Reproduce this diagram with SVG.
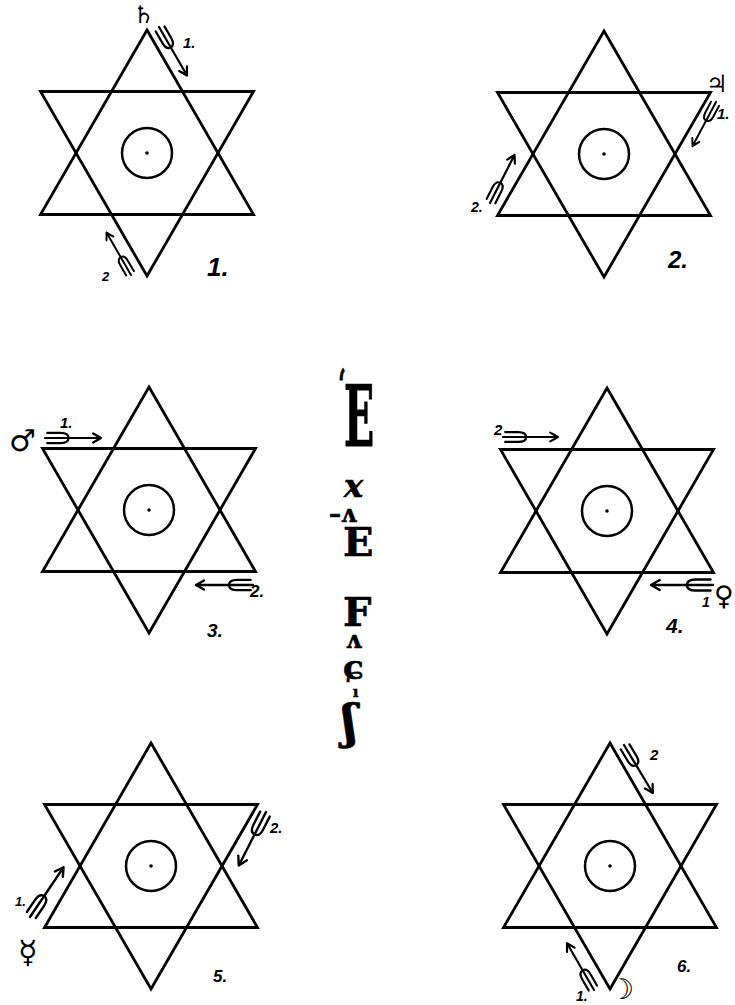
<svg xmlns="http://www.w3.org/2000/svg" xmlns:xlink="http://www.w3.org/1999/xlink" width="735" height="1005" viewBox="0 0 735 1005">
<style>
.hexl{fill:none;stroke:#000;stroke-width:2.8;stroke-linejoin:miter}
.ring{fill:none;stroke:#000;stroke-width:2.5}
.ar{fill:none;stroke:#000;stroke-width:2;stroke-linecap:round;stroke-linejoin:round}
.num{font-family:"Liberation Sans",Arial,sans-serif;font-weight:bold;font-style:italic;fill:#000}
.sym{font-family:"DejaVu Sans",sans-serif;fill:#000}
.eno{font-family:"DejaVu Serif",serif;font-weight:bold;fill:#000;stroke:#000;stroke-width:0.6}
</style>
<defs>
<g id="hex">
<polygon class="hexl" points="0,-123 106.5,61.5 -106.5,61.5"/>
<polygon class="hexl" points="0,123 106.5,-61.5 -106.5,-61.5"/>
<circle class="ring" cx="0" cy="0" r="25"/>
<circle cx="0" cy="0" r="1.8" fill="#000"/>
</g>
<g id="ta">
<path class="ar" d="M0,0 H50 M43,-4 L50,0 L43,4"/>
<path class="ar" d="M2,-4.5 H14 Q21,-4.5 21,0 Q21,4.5 14,4.5 H2"/>
</g>
</defs>
<rect width="735" height="1005" fill="#fff"/>

<g id="star1">
<use xlink:href="#hex" transform="translate(147,153)"/>
<text class="sym" x="133" y="23" font-size="24">♄</text>
<text class="num" x="183" y="48" font-size="15">1.</text>
<text class="num" x="102" y="281" font-size="13">2</text>
<text class="num" x="207" y="276" font-size="26">1.</text>
</g>
<g id="star2">
<use xlink:href="#hex" transform="translate(604,154)"/>
<text class="sym" x="706" y="92" font-size="24">♃</text>
<text class="num" x="717" y="119" font-size="15">1.</text>
<text class="num" x="471" y="212" font-size="14">2.</text>
<text class="num" x="668" y="268" font-size="24">2.</text>
</g>
<g id="star3">
<use xlink:href="#hex" transform="translate(149,510)"/>
<text class="sym" x="9" y="451" font-size="30">♂</text>
<text class="num" x="60" y="428" font-size="15">1.</text>
<text class="num" x="250" y="597" font-size="17">2.</text>
<text class="num" x="207" y="637" font-size="19">3.</text>
</g>
<g id="star4">
<use xlink:href="#hex" transform="translate(607,511)"/>
<text class="num" x="494" y="435" font-size="15">2</text>
<text class="num" x="702" y="607" font-size="14">1</text>
<text class="sym" x="714" y="605" font-size="27">♀</text>
<text class="num" x="666" y="633" font-size="21">4.</text>
</g>
<g id="star5">
<use xlink:href="#hex" transform="translate(151,866)"/>
<text class="num" x="15" y="906" font-size="13">1.</text>
<text class="sym" x="18" y="963" font-size="32">☿</text>
<text class="num" x="270" y="833" font-size="15">2.</text>
<text class="num" x="213" y="982" font-size="17">5.</text>
</g>
<g id="star6">
<use xlink:href="#hex" transform="translate(610,866)"/>
<text class="num" x="650" y="760" font-size="15">2</text>
<text class="num" x="576" y="1001" font-size="14">1.</text>
<text class="sym" x="609" y="999" font-size="28" font-weight="bold">☽</text>
<text class="num" x="677" y="972" font-size="17">6.</text>
</g>

<g id="connectors">
<use xlink:href="#ta" transform="translate(159,27) rotate(60) scale(1.12)"/>
<use xlink:href="#ta" transform="translate(131,275) rotate(-120) scale(0.98)"/>
<use xlink:href="#ta" transform="translate(716,102) rotate(118) scale(1.0)"/>
<use xlink:href="#ta" transform="translate(490,203) rotate(-63) scale(1.08)"/>
<use xlink:href="#ta" transform="translate(45,438) rotate(0) scale(1.12)"/>
<use xlink:href="#ta" transform="translate(253,585) rotate(180) scale(1.14)"/>
<use xlink:href="#ta" transform="translate(503,437) rotate(0) scale(1.1)"/>
<use xlink:href="#ta" transform="translate(713,585) rotate(180) scale(1.24)"/>
<use xlink:href="#ta" transform="translate(30,917) rotate(-56) scale(1.2)"/>
<use xlink:href="#ta" transform="translate(266,812) rotate(117) scale(1.2)"/>
<use xlink:href="#ta" transform="translate(624,745) rotate(59) scale(1.12)"/>
<use xlink:href="#ta" transform="translate(594,990) rotate(-120) scale(1.08)"/>
</g>

<g id="central-text">
<text class="eno" transform="translate(344,446) scale(0.9,1.9)" font-size="44"><tspan x="-6" y="-25" font-size="22">‘</tspan><tspan x="0" y="0">E</tspan></text>
<text class="eno" font-size="40"><tspan x="344" y="497" font-size="32" font-style="italic">x</tspan><tspan x="329" y="522" font-size="24">–ʌ</tspan><tspan x="343" y="556">E</tspan></text>
<text class="eno" font-size="40"><tspan x="343" y="626">F</tspan><tspan x="346" y="648" font-size="24">ʌ</tspan><tspan x="343" y="679" font-size="34">ɕ</tspan><tspan x="353" y="697" font-size="14">ı</tspan><tspan x="342" y="738" font-size="46">ʃ</tspan></text>
</g>
</svg>
